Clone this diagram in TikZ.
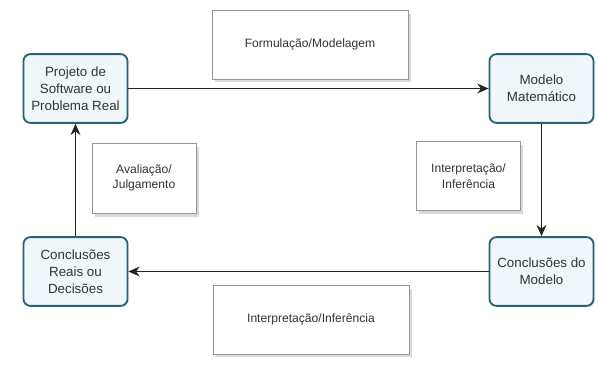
\documentclass[tikz,border=0pt]{standalone}
\usepackage{fontspec}
\setmainfont{Liberation Sans}
\usetikzlibrary{arrows.meta,shadows}

\definecolor{bordaazul}{RGB}{40,98,114}
\definecolor{fundoazul}{RGB}{240,247,251}
\definecolor{cinzaborda}{RGB}{150,150,150}
\definecolor{setacor}{RGB}{35,35,35}

\begin{document}
\begin{tikzpicture}[x=0.025cm,y=-0.025cm,
    etapa/.style={draw=bordaazul,line width=1.3pt,fill=fundoazul,rounded corners=5pt,
      minimum width=2.6cm,minimum height=1.72cm,align=center,inner sep=1pt,
      font=\fontsize{9.5}{12}\selectfont,text=black!80,
      drop shadow={opacity=0.12,shadow xshift=1pt,shadow yshift=-1pt}},
    rotulo/.style={draw=cinzaborda,line width=0.5pt,fill=white,align=center,
      font=\fontsize{8.6}{11}\selectfont,text=black!80,inner sep=1pt,
      drop shadow={opacity=0.3,shadow xshift=2pt,shadow yshift=-2.5pt}},
    seta/.style={draw=setacor,line width=1pt,-{Stealth[length=8pt,width=7pt]}}]
      \useasboundingbox (0,0) rectangle (598,381);

      % Etapas
      \node[etapa] (projeto) at (75.5,88.5) {Projeto de\\Software ou\\Problema Real};
      \node[etapa] (modelo) at (541.5,88.5) {Modelo\\Matemático};
      \node[etapa] (conclmodelo) at (541.5,271.5) {Conclusões do\\Modelo};
      \node[etapa] (conclreais) at (75.5,271.5) {Conclusões\\Reais ou\\Decisões};

      % Rotulos
      \node[rotulo,minimum width=4.9cm,minimum height=1.72cm] (formul) at (310,44.5) {Formulação/Modelagem};
      \node[rotulo,minimum width=2.6cm,minimum height=1.72cm] (interpdir) at (468.5,176) {Interpretação/\\Inferência};
      \node[rotulo,minimum width=4.9cm,minimum height=1.72cm] (interpbaixo) at (311,319.5) {Interpretação/Inferência};
      \node[rotulo,minimum width=2.6cm,minimum height=1.75cm] (avalia) at (144,178) {Avaliação/\\Julgamento};

      % Setas
      \draw[seta] (projeto) -- (modelo);
      \draw[seta] (modelo) -- (conclmodelo);
      \draw[seta] (conclmodelo) -- (conclreais);
      \draw[seta] (conclreais) -- (projeto);
\end{tikzpicture}
\end{document}
